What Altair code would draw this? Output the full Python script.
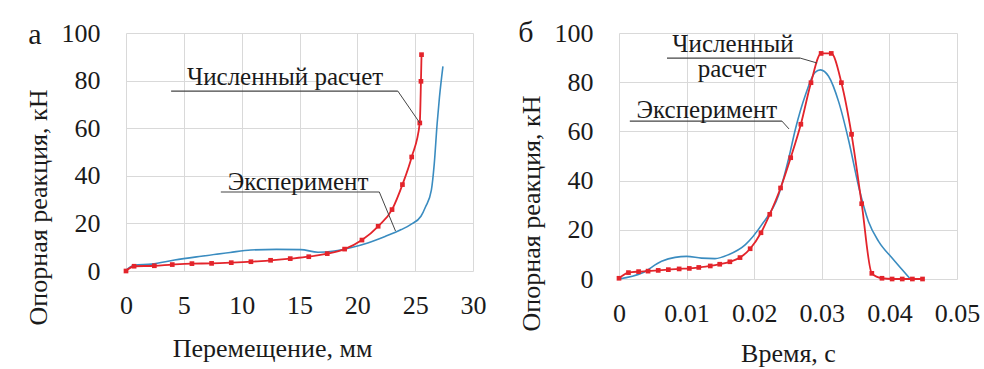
import altair as alt
import pandas as pd

FONT = "Liberation Serif"
RED = "#e3242b"
BLUE = "#3a8cc0"
INK = "#1a1a1a"
LEAD = "#444444"
GRID = "#d9d9d9"

# ---------- panel a: displacement ----------
a_exp_x = [0, 0.7, 2.2, 4.2, 6.5, 9.0, 10.8, 13.0, 15.1, 16.6, 18.0, 19.5, 20.9, 22.4,
           23.8, 24.6, 25.5, 25.9, 26.4, 26.65, 26.9, 27.1, 27.4]
a_exp_y = [0.3, 2.4, 2.9, 4.6, 6.2, 7.8, 8.8, 9.1, 9.0, 7.9, 8.4, 9.9, 11.8, 14.5,
           17.4, 19.5, 23.0, 27.0, 34.0, 45.0, 62.0, 73.0, 86.0]
a_num_x = [0, 0.7, 2.45, 4.0, 5.7, 7.4, 9.1, 10.8, 12.5, 14.2, 15.8, 17.4, 18.9, 20.4,
           21.8, 23.0, 23.9, 24.7, 25.4, 25.5, 25.55]
a_num_y = [0, 2.0, 2.2, 2.7, 3.1, 3.2, 3.5, 3.9, 4.5, 5.2, 6.0, 7.3, 9.2, 13.0,
           18.8, 25.8, 36.3, 47.9, 62.2, 79.7, 90.9]

# ---------- panel b: time ----------
b_exp_x = [0, 0.0034, 0.0063, 0.0083, 0.0100, 0.0122, 0.0142, 0.0162, 0.0187, 0.0211,
           0.0236, 0.0251, 0.0261, 0.0276, 0.0290, 0.0298, 0.0310, 0.0325, 0.0340,
           0.0355, 0.0369, 0.0384, 0.0404, 0.0430]
b_exp_y = [0, 2.4, 7.2, 8.8, 9.2, 8.5, 8.3, 9.9, 14.0, 22.0,
           34.0, 49.0, 61.0, 75.0, 84.0, 85.0, 82.4, 72.0, 56.0,
           37.0, 23.4, 15.3, 8.5, 0.3]
b_num_x = [0, 0.0014, 0.0029, 0.0043, 0.0058, 0.0073, 0.0089, 0.0104, 0.0118, 0.0135,
           0.0149, 0.0164, 0.0179, 0.0194, 0.0210, 0.0223, 0.0239, 0.0254, 0.0269,
           0.0284, 0.0299, 0.0314, 0.0329, 0.0344, 0.0359, 0.0374, 0.0389, 0.0404,
           0.0419, 0.0434, 0.0449]
b_num_y = [0.3, 2.6, 3.0, 3.2, 3.5, 3.8, 4.1, 4.3, 4.7, 5.3,
           6.0, 7.0, 8.7, 12.3, 18.8, 26.3, 37.0, 49.3, 62.9,
           79.8, 91.7, 91.7, 79.8, 58.8, 30.6, 2.3, 0.3, 0.0,
           0.0, 0.0, 0.0]

# annotations: text labels (x, y centre, text) incl. panel letters
a_labels = [(13.75, 81.7, "Численный расчет"), (14.87, 37.6, "Эксперимент")]
a_letter = [(-7.87, 99.2, "а")]
a_under = [(3.9, 23.5, 75.6), (8.2, 21.9, 33.2)]
a_lead = [(23.5, 75.6, 25.4, 62.2), (21.9, 33.2, 23.3, 16.8)]

b_labels = [(0.01686, 95.6, "Численный"), (0.01672, 85.2, "расчет"),
            (0.0130, 68.9, "Эксперимент")]
b_letter = [(-0.01376, 100.0, "б")]
b_under = [(0.0071, 0.0268, 89.8), (0.0016, 0.0241, 64.2)]
b_lead = [(0.0268, 89.8, 0.0293, 87.8), (0.0241, 64.2, 0.02515, 61.0)]

Y_TITLE = "Опорная реакция, кН"


def panel(exp_x, exp_y, num_x, num_y, labels, letter, under, lead, xdom, xstep,
          xtitle, xfmt, w, h, xtitle_x, xtitle_y, ytitle_y):
    exp_df = pd.DataFrame({"x": exp_x, "y": exp_y})
    num_df = pd.DataFrame({"x": num_x, "y": num_y})
    lab_df = pd.DataFrame(labels, columns=["x", "y", "t"])
    let_df = pd.DataFrame(letter, columns=["x", "y", "t"])
    und_df = pd.DataFrame(under, columns=["x", "x2", "y"])
    led_df = pd.DataFrame(lead, columns=["x", "y", "x2", "y2"])

    nt = int(round(xdom[1] / xstep))
    xticks = [round(i * xstep, 4) for i in range(nt + 1)]
    xsc = alt.Scale(domain=xdom, nice=False, zero=False)
    ysc = alt.Scale(domain=[0, 100], nice=False)

    xax = alt.Axis(title=xtitle, values=xticks, format=xfmt, grid=True, gridColor=GRID,
                   domain=False, ticks=False, labelPadding=21, labelFont=FONT,
                   labelFontSize=26, labelColor=INK, titleFont=FONT, titleFontSize=26,
                   titleColor=INK, titleX=xtitle_x, titleY=xtitle_y,
                   titleBaseline="middle", labelFlush=False, titleFontWeight=400)
    yax = alt.Axis(title=Y_TITLE, values=[0, 20, 40, 60, 80, 100], grid=True,
                   gridColor=GRID, domain=False, ticks=False, labelPadding=26,
                   labelFont=FONT, labelFontSize=26, labelColor=INK, titleFont=FONT,
                   titleFontSize=26, titleColor=INK, titleX=-88, titleY=ytitle_y,
                   titleBaseline="middle", titleAlign="center", titleAngle=-90,
                   titleFontWeight=400)

    base_exp = alt.Chart(exp_df).mark_line(color=BLUE, strokeWidth=1.6,
                                           interpolate="monotone").encode(
        x=alt.X("x:Q", scale=xsc, axis=xax), y=alt.Y("y:Q", scale=ysc, axis=yax))
    num_line = alt.Chart(num_df).mark_line(color=RED, strokeWidth=1.8,
                                           interpolate="monotone").encode(
        x=alt.X("x:Q", scale=xsc), y=alt.Y("y:Q", scale=ysc))
    num_pts = alt.Chart(num_df).mark_square(color=RED, size=22, opacity=1).encode(
        x=alt.X("x:Q", scale=xsc), y=alt.Y("y:Q", scale=ysc))
    texts = alt.Chart(lab_df).mark_text(font=FONT, fontSize=25, color=INK).encode(
        x=alt.X("x:Q", scale=xsc), y=alt.Y("y:Q", scale=ysc), text="t:N")
    letters = alt.Chart(let_df).mark_text(font=FONT, fontSize=30, color=INK).encode(
        x=alt.X("x:Q", scale=xsc), y=alt.Y("y:Q", scale=ysc), text="t:N")
    unders = alt.Chart(und_df).mark_rule(color=LEAD, strokeWidth=1.2).encode(
        x=alt.X("x:Q", scale=xsc), x2="x2:Q", y=alt.Y("y:Q", scale=ysc))
    leads = alt.Chart(led_df).mark_rule(color=LEAD, strokeWidth=1).encode(
        x=alt.X("x:Q", scale=xsc), x2="x2:Q", y=alt.Y("y:Q", scale=ysc), y2="y2:Q")

    return alt.layer(base_exp, num_line, num_pts, unders, leads, texts, letters).properties(
        width=w, height=h, view=alt.ViewBackground(stroke="transparent"))


left = panel(a_exp_x, a_exp_y, a_num_x, a_num_y, a_labels, a_letter, a_under, a_lead,
             [0, 30], 5, "Перемещение, мм", "d", 347, 238, 146, 77, 174)
right = panel(b_exp_x, b_exp_y, b_num_x, b_num_y, b_labels, b_letter, b_under, b_lead,
              [0, 0.05], 0.01, "Время, с", ".2~f", 338, 246, 169, 74, 180)

chart = alt.hconcat(left, right, spacing=30).properties(
    padding={"left": 24, "top": 17, "right": 0, "bottom": 0},
)

chart.save("out.html", embed_options={"renderer": "svg", "actions": False})
